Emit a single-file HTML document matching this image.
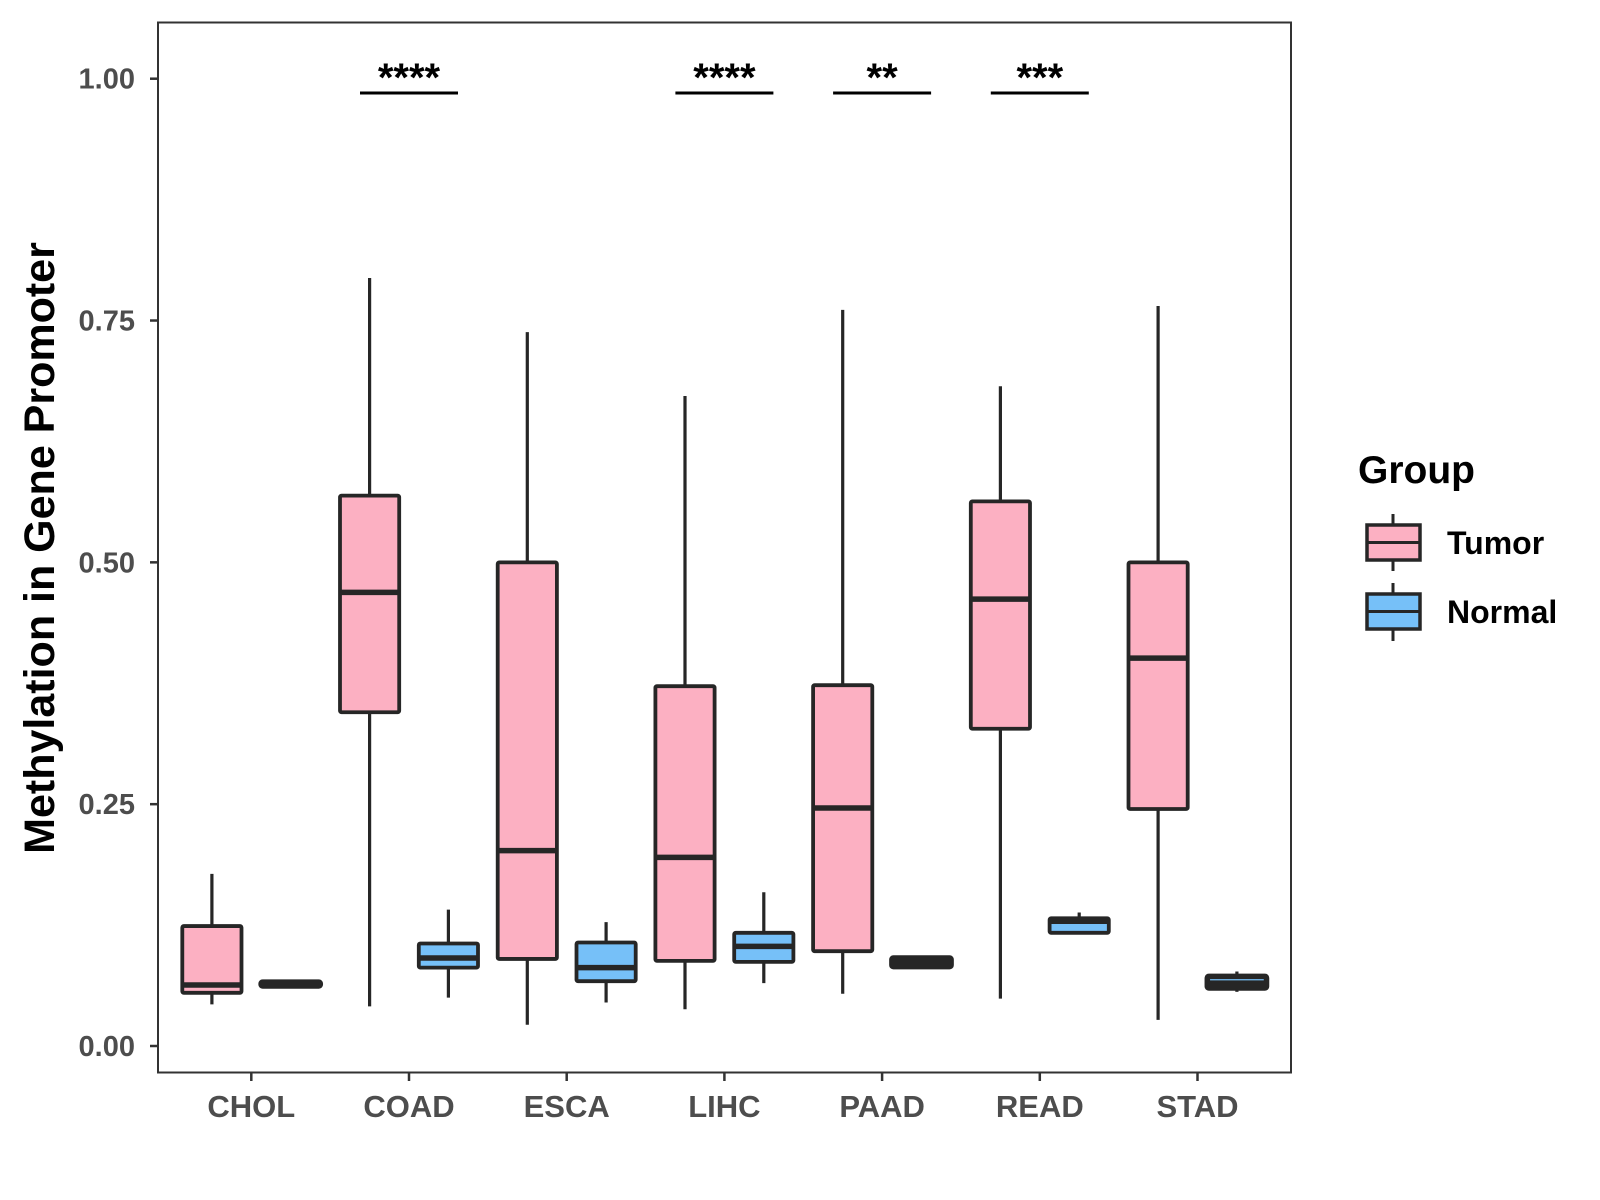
<!DOCTYPE html>
<html><head><meta charset="utf-8"><style>
body{margin:0;background:#fff}
svg{display:block;font-family:"Liberation Sans",Arial,sans-serif}
</style></head><body>
<svg id="chart" width="1600" height="1200">
<rect x="158" y="22.5" width="1133" height="1050" fill="#fff" stroke="#333" stroke-width="2"/>
<g id="marks"></g>
<text transform="translate(54,548) rotate(-90)" text-anchor="middle" font-size="43" font-weight="bold" fill="#000">Methylation in Gene Promoter</text>
<g>
<text x="1358" y="483" font-size="39" font-weight="bold">Group</text>
<g>
<line x1="1393" y1="514" x2="1393" y2="571" stroke="#262626" stroke-width="3"/>
<rect x="1367" y="525" width="53" height="35" fill="#fcb0c2" stroke="#262626" stroke-width="3.5"/>
<line x1="1367" y1="542.5" x2="1420" y2="542.5" stroke="#262626" stroke-width="3"/>
<text x="1447" y="554" font-size="32" font-weight="bold">Tumor</text></g>
<g>
<line x1="1393" y1="583" x2="1393" y2="641" stroke="#262626" stroke-width="3"/>
<rect x="1367" y="594" width="53" height="35" fill="#76c0f8" stroke="#262626" stroke-width="3.5"/>
<line x1="1367" y1="611.5" x2="1420" y2="611.5" stroke="#262626" stroke-width="3"/>
<text x="1447" y="623" font-size="32" font-weight="bold">Normal</text></g>
</g>
</svg>
<script>
const categories=["CHOL","COAD","ESCA","LIHC","PAAD","READ","STAD"];
// [lowWhisker, q1, median, q3, highWhisker]
const tumor=[[0.043,0.055,0.063,0.124,0.178],[0.041,0.345,0.469,0.569,0.794],[0.022,0.09,0.202,0.5,0.738],[0.038,0.088,0.195,0.372,0.672],[0.054,0.098,0.246,0.373,0.761],[0.049,0.328,0.462,0.563,0.682],[0.027,0.245,0.401,0.5,0.765]];
const normal=[[0.062,0.062,0.064,0.066,0.067],[0.05,0.081,0.091,0.106,0.141],[0.045,0.067,0.081,0.107,0.128],[0.065,0.087,0.103,0.117,0.159],[0.082,0.082,0.087,0.091,0.093],[0.117,0.117,0.129,0.132,0.138],[0.056,0.06,0.065,0.072,0.077]];
const yTicks=[0,0.25,0.5,0.75,1.0];
const yTickLabels=["0.00","0.25","0.50","0.75","1.00"];
const sigLabels=["","****","","****","**","***",""];
const NS="http://www.w3.org/2000/svg";
const g=document.getElementById('marks');
const y=v=>1046-v*967.3;
const x=i=>251.3+i*157.7;
function mk(t,a,p){const e=document.createElementNS(NS,t);for(const k in a)e.setAttribute(k,a[k]);(p||g).appendChild(e);return e;}
yTicks.forEach((v,i)=>{
 const t=mk('line',{x1:150,x2:158,y1:y(v),y2:y(v),stroke:'#333','stroke-width':2.5});
 
 
 const l=mk('text',{x:135,y:y(v)+10,'text-anchor':'end','font-size':29,'font-weight':'bold',fill:'#4d4d4d'});
 l.textContent=yTickLabels[i];
 
 
});
categories.forEach((c,i)=>{
 const t=mk('line',{x1:x(i),x2:x(i),y1:1072,y2:1081,stroke:'#333','stroke-width':2.5});
 
 
 const l=mk('text',{x:x(i),y:1117,'text-anchor':'middle','font-size':31,'font-weight':'bold',fill:'#4d4d4d'});
 l.textContent=c;
 
 
 [[tumor[i],-39.4,'#fcb0c2','tumor'],[normal[i],39.4,'#76c0f8','normal']].forEach(([d,off,fill,nm])=>{
  const cx=x(i)+off;
  const h=y(d[1])-y(d[3]);
  const sw=h<12?5.5:3.8;
  const bg=mk('g',{});
  
  
  mk('line',{x1:cx,x2:cx,y1:y(d[0]),y2:y(d[4]),stroke:'#262626','stroke-width':3.2},bg);
  mk('rect',{x:cx-29.6,y:y(d[3]),width:59.2,height:Math.max(h,0.5),fill:fill,stroke:'#262626','stroke-width':sw,rx:1.5},bg);
  mk('line',{x1:cx-29.6,x2:cx+29.6,y1:y(d[2]),y2:y(d[2]),stroke:'#262626','stroke-width':5.5},bg);
 });
 if(sigLabels[i]){
  const sl=mk('line',{x1:x(i)-49,x2:x(i)+49,y1:93,y2:93,stroke:'#000','stroke-width':3});
  
  
  const st=mk('text',{x:x(i),y:91,'text-anchor':'middle','font-size':40,'font-weight':'bold',fill:'#000'});
  st.textContent=sigLabels[i];
  
  
 }
});
</script>
</body></html>
